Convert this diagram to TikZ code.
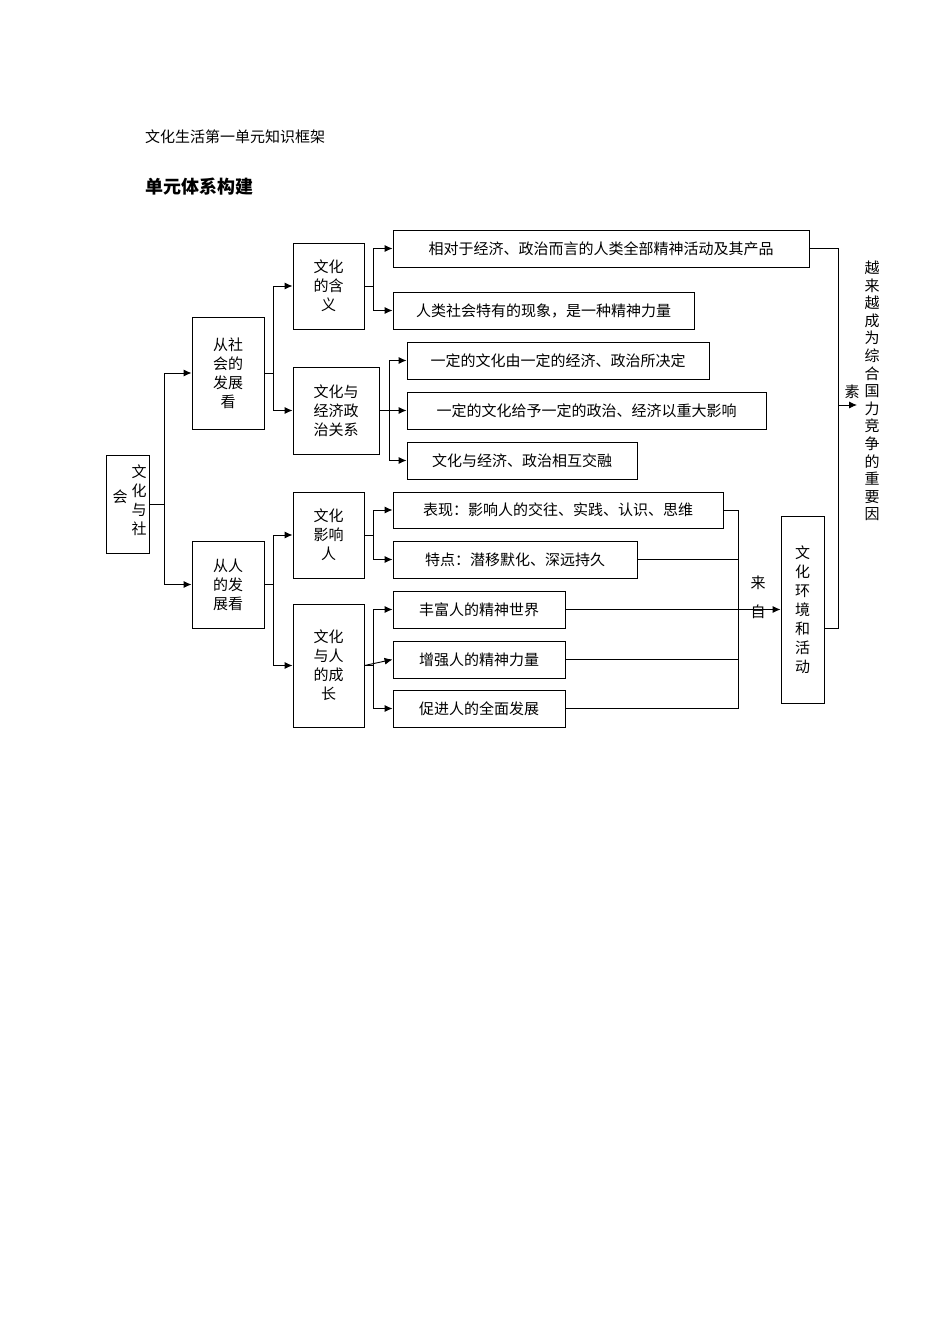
\documentclass[tikz,border=0pt]{standalone}
\usepackage{fontspec}
\setmainfont{Noto Sans CJK SC}
\usetikzlibrary{arrows.meta}
\begin{document}
\begin{tikzpicture}[x=1pt,y=-1pt,
  box/.style={draw,line width=0.9pt,inner sep=0pt,align=center,font=\fontsize{15}{19}\selectfont},
  txt/.style={inner sep=0pt,font=\fontsize{15}{19}\selectfont},
  ln/.style={line width=0.9pt},
  arr/.style={line width=0.9pt,-{Latex[length=8pt,width=7pt]}}]
\useasboundingbox (0,0) rectangle (950,1344);
\newcommand\bx[6]{\node[box,minimum width=#4-#2,minimum height=#5-#3] (#1) at ({(#2+#4)/2},{(#3+#5)/2}) {#6};}
\node[txt,anchor=west,font=\fontsize{15}{18}\selectfont] (t1) at (145,137) {文化生活第一单元知识框架};
\node[txt,anchor=west,font=\fontsize{18}{20}\bfseries] (t2) at (145,187) {单元体系构建};
\bx{root}{106}{455}{149}{553}{}
\node[txt,align=center] (rootA) at (139,500) {文\\化\\与\\社};
\node[txt] (rootB) at (120,497) {会};
\bx{s}{192}{317}{264}{429}{从社\\会的\\发展\\看}
\bx{p}{192}{541}{264}{628}{从人\\的发\\展看}
\bx{a}{293}{243}{364}{329}{文化\\的含\\义}
\bx{b}{293}{367}{379}{454}{文化与\\经济政\\治关系}
\bx{c}{293}{492}{364}{578}{文化\\影响\\人}
\bx{d}{293}{604}{364}{727}{文化\\与人\\的成\\长}
\bx{r1}{393}{230}{809}{267}{相对于经济、政治而言的人类全部精神活动及其产品}
\bx{r2}{393}{292}{694}{329}{人类社会特有的现象，是一种精神力量}
\bx{r3}{407}{342}{709}{379}{一定的文化由一定的经济、政治所决定}
\bx{r4}{407}{392}{766}{429}{一定的文化给予一定的政治、经济以重大影响}
\bx{r5}{407}{442}{637}{479}{文化与经济、政治相互交融}
\bx{r6}{393}{492}{723}{528}{表现：影响人的交往、实践、认识、思维}
\bx{r7}{393}{541}{637}{578}{特点：潜移默化、深远持久}
\bx{r8}{393}{591}{565}{628}{丰富人的精神世界}
\bx{r9}{393}{641}{565}{678}{增强人的精神力量}
\bx{r10}{393}{690}{565}{727}{促进人的全面发展}
\bx{env}{781}{516}{824}{703}{文\\化\\环\\境\\和\\活\\动}
\node[txt] (lai) at (758,583) {来};
\node[txt] (zi) at (758,612) {自};
\node[txt] (su) at (852,392) {素};
\node[txt,align=center,font=\fontsize{15}{17.6}\selectfont] (v) at (872,391) {越\\来\\越\\成\\为\\综\\合\\国\\力\\竞\\争\\的\\重\\要\\因};
% tree
\draw[arr] (root.east) -- ++(15,0) |- (s.west);
\draw[arr] (root.east) -- ++(15,0) |- (p.west);
\draw[arr] (s.east) -- ++(9,0) |- (a.west);
\draw[arr] (s.east) -- ++(9,0) |- (b.west);
\draw[arr] (p.east) -- ++(9,0) |- (c.west);
\draw[arr] (p.east) -- ++(9,0) |- (d.west);
\draw[arr] (a.east) -- ++(9,0) |- (r1.west);
\draw[arr] (a.east) -- ++(9,0) |- (r2.west);
\draw[arr] (b.east) -- ++(10,0) |- (r3.west);
\draw[arr] (b.east) -- (r4.west);
\draw[arr] (b.east) -- ++(10,0) |- (r5.west);
\draw[arr] (c.east) -- ++(9,0) |- (r6.west);
\draw[arr] (c.east) -- ++(9,0) |- (r7.west);
\draw[arr] (d.east) -- ++(9,0) |- (r8.west);
\draw[arr] (d.east) -- (r9.west);
\draw[arr] (d.east) -- ++(9,0) |- (r10.west);
% collector
\coordinate (jb) at (738,708.5);
\draw[ln] (r6.east) -| (jb) -- (r10.east);
\draw[ln] (r7.east) -- (jb |- r7.east);
\draw[ln] (r9.east) -- (jb |- r9.east);
\draw[arr] (r8.east) -- (env.west |- r8.east);
\coordinate (rt) at (838,628);
\draw[ln] (r1.east) -| (rt) -- (env.east |- rt);
\coordinate (ra) at (838,405);
\coordinate (rb) at (857,405);
\draw[arr] (ra) -- (rb);
\end{tikzpicture}
\end{document}
